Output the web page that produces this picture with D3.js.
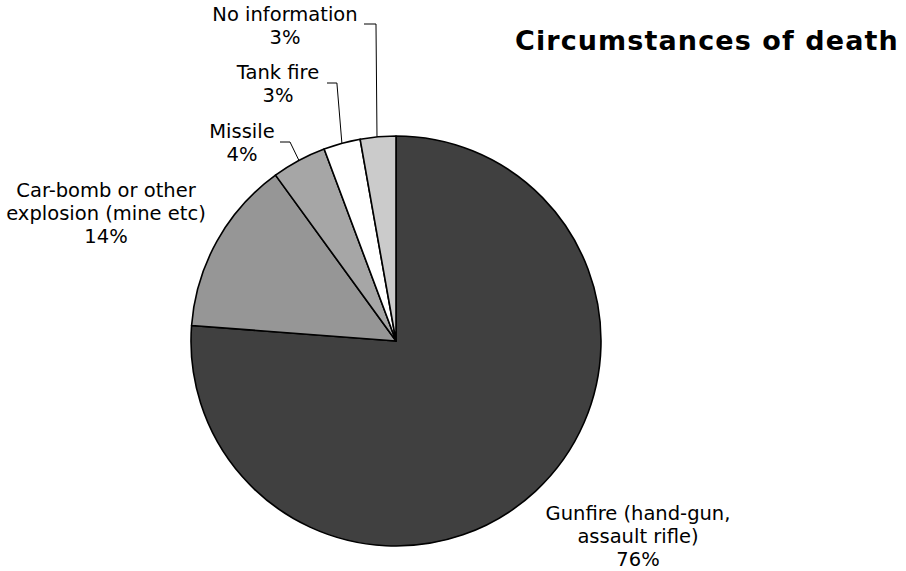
<!DOCTYPE html>
<html><head><meta charset="utf-8">
<script src="https://cdn.jsdelivr.net/npm/d3@7/dist/d3.min.js"></script>
<style>body{margin:0;background:#fff}svg{display:block}text{font-family:"DejaVu Sans",Verdana,sans-serif}</style>
</head><body>
<svg id="c" width="906" height="571"></svg>
<script>
const categories = ["Gunfire (hand-gun, assault rifle)", "Car-bomb or other explosion (mine etc)", "Missile", "Tank fire", "No information"];
const values = [76.2, 13.8, 4.3, 2.9, 2.8];
const colors = ["#404040", "#969696", "#a6a6a6", "#ffffff", "#cbcbcb"];
const labelLines = [["Gunfire (hand-gun,", "assault rifle)"], ["Car-bomb or other", "explosion (mine etc)"], ["Missile"], ["Tank fire"], ["No information"]];
const title = "Circumstances of death";

const svg = d3.select("#c");
const cx = 396, cy = 341, r = 205;
const data = categories.map((c, i) => ({c, v: values[i], col: colors[i], lines: labelLines[i]}));
const pie = d3.pie().value(d => d.v).sort(null);
const arcs = pie(data);
const arc = d3.arc().innerRadius(0).outerRadius(r);
const g = svg.append("g").attr("transform", `translate(${cx},${cy})`);
g.selectAll("path").data(arcs).join("path")
  .attr("d", arc).attr("fill", d => d.data.col)
  .attr("stroke", "#000").attr("stroke-width", 1.6).attr("stroke-linejoin", "round");

const total = d3.sum(values);
const fmt = v => Math.round(v / total * 100) + "%";

const labelPos = [
  {x: 638, y: 520},
  {x: 106, y: 197},
  {x: 242, y: 138},
  {x: 278, y: 79},
  {x: 285, y: 21}
];
const fs = 19.5, lh = 23;
data.forEach((d, i) => {
  const p = labelPos[i];
  const t = svg.append("text").attr("text-anchor", "middle").attr("font-size", fs).attr("fill", "#000");
  const lines = d.lines.concat([fmt(d.v)]);
  lines.forEach((l, j) => t.append("tspan").attr("x", p.x).attr("y", p.y + j * lh).text(l));
});

const leaders = [
  {i: 2, sx: 280, sy: 142, bend: 10},
  {i: 3, sx: 327, sy: 83, bend: 0},
  {i: 4, sx: 364, sy: 24, bend: 0}
];
leaders.forEach(L => {
  const a = arcs[L.i];
  const m = (a.startAngle + a.endAngle) / 2;
  const ex = cx + r * Math.sin(m), ey = cy - r * Math.cos(m);
  let pts;
  if (L.i === 2) pts = [[L.sx, L.sy], [L.sx + L.bend, L.sy], [ex, ey]];
  else if (L.i === 3) pts = [[L.sx, L.sy], [ex - 5, L.sy], [ex, ey]];
  else pts = [[L.sx, L.sy], [ex - 2, L.sy], [ex - 1, ey]];
  svg.append("path").attr("d", d3.line()(pts)).attr("fill", "none").attr("stroke", "#000").attr("stroke-width", 1);
});

svg.append("text").attr("x", 515).attr("y", 50).attr("text-anchor", "start")
  .attr("font-size", 27).attr("font-weight", "bold").attr("fill", "#000")
  .attr("letter-spacing", 1.1).text(title);
</script>
</body></html>
